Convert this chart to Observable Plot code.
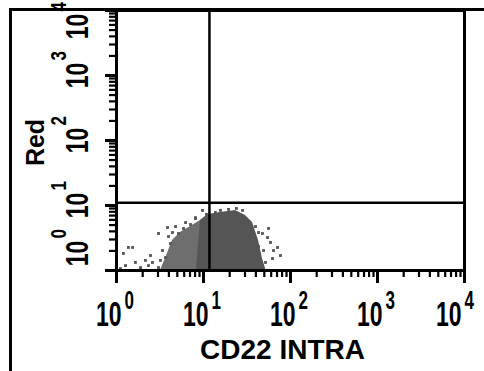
<!DOCTYPE html>
<html><head><meta charset="utf-8">
<script src="https://cdn.jsdelivr.net/npm/d3@7"></script>
<script src="https://cdn.jsdelivr.net/npm/@observablehq/plot@0.6"></script>
<style>
body{margin:0;background:#fff;}
#wrap{position:relative;width:484px;height:371px;overflow:hidden;font-family:"Liberation Sans",Arial,sans-serif;}
#wrap::before{content:"";position:absolute;left:9px;top:8px;right:0;bottom:0;border-left:3px solid #000;border-top:3px solid #000;}
#wrap svg{position:absolute;left:0;top:0;}
</style></head><body><div id="wrap"></div>
<script>
// Axis decades and exponent labels
const decades = [1, 10, 100, 1000, 10000];
const exponents = ["0", "1", "2", "3", "4"];
const minorTicks = [2,3,4,5,6,7,8,9,20,30,40,50,60,70,80,90,200,300,400,500,600,700,800,900,2000,3000,4000,5000,6000,7000,8000,9000];
// Quadrant gates
const gateCD22 = 11.7;
const gateRed = 11;
// Sparse left shoulder of the cloud: upper envelope (CD22, Red)
const shoulderCD22 = [3.2, 3.66, 4.40, 5.44, 7.09, 9.24, 11.4];
const shoulderRed  = [1.0, 1.53, 2.90, 3.84, 4.75, 5.88, 7.27];
// Dense core of the cloud: upper envelope (CD22, Red)
const coreCD22 = [8.3, 9.24, 11.4, 15.7, 23.3, 30.4, 36.6, 42.9, 47.6, 51.6, 52.8];
const coreRed  = [1.0, 5.88, 7.27, 7.80, 8.38, 7.02, 5.47, 2.90, 1.53, 1.07, 1.0];
// Scattered events
const dotCD22 = [9.75, 19.4, 23.9, 28.1, 47.6, 54.4, 70.9, 49, 32, 58.9, 3.04, 1.53, 1.37, 1.20, 1.27, 1.89, 2.33, 3.04, 3.86, 4.40, 5.16, 4.18, 3.66, 3.2, 5.89, 7.09, 2.59, 39.6, 42.9, 36.6, 62.1, 13.7, 15.7, 8.1, 10.8,
  3.38, 3.96, 4.77, 6.22, 8.09, 2.46, 2.15, 1.65, 1.11, 55.9, 63.8, 76.7, 51.6, 42.9];
const dotRed  = [8.4, 8.7, 9.0, 8.4, 3.71, 3.22, 2.26, 2.03, 1.43, 2.70, 3.71, 2.26, 2.26, 1.83, 1.19, 1.11, 1.19, 1.11, 4.59, 3.84, 3.71, 2.60, 1.58, 1.43, 4.43, 5.1, 1.33, 4.75, 2.34, 1.70, 1.53, 7.8, 8.4, 6.5, 7.3,
  2.03, 3.33, 4.75, 5.47, 6.31, 1.70, 1.43, 1.33, 1.07, 4.43, 2.03, 1.70, 1.33, 3.84];

const shoulder = shoulderCD22.map((x, i) => ({x, y: shoulderRed[i]}));
const core = coreCD22.map((x, i) => ({x, y: coreRed[i]}));
const dots = dotCD22.map((x, i) => ({x, y: dotRed[i]}));
const ink = "#555";
const LF = "Liberation Sans, Arial, sans-serif";

const inner = decades.slice(1, 4);
const big = 23, small = 17;
const lab = {frameAnchor: "left", rotate: -90, lineAnchor: "bottom", fontWeight: "bold"};
const chart = Plot.plot({
  width: 484, height: 371,
  marginLeft: 116, marginRight: 20, marginTop: 10, marginBottom: 101,
  style: {background: "transparent", fontFamily: LF, overflow: "visible"},
  x: {type: "log", domain: [1, 10000]},
  y: {type: "log", domain: [1, 10000]},
  marks: [
    Plot.areaY(shoulder, {x: "x", y1: 1, y2: "y", fill: ink, fillOpacity: 0.85}),
    Plot.areaY(core, {x: "x", y1: 1, y2: "y", fill: ink}),
    Plot.dot(dots, {x: "x", y: "y", symbol: "square", r: 1.6, fill: ink}),
    Plot.ruleX([gateCD22], {stroke: "#000", strokeWidth: 2.5}),
    Plot.ruleY([gateRed], {stroke: "#000", strokeWidth: 2.5}),
    Plot.frame({stroke: "#000", strokeWidth: 3}),
    Plot.axisX(decades, {anchor: "bottom", tickSize: 13, strokeWidth: 3, tickFormat: () => "", label: null}),
    Plot.axisX(minorTicks, {anchor: "bottom", tickSize: 7, strokeWidth: 2.2, tickFormat: () => "", label: null}),
    Plot.axisY(decades, {anchor: "left", tickSize: 11, strokeWidth: 3, tickFormat: () => "", label: null}),
    Plot.axisY(minorTicks, {anchor: "left", tickSize: 7, strokeWidth: 2.2, tickFormat: () => "", label: null}),
    // x tick labels
    Plot.text(decades.slice(0, 4), {x: d => d, frameAnchor: "bottom", text: () => "10", textAnchor: "end", lineAnchor: "bottom", dx: 5, dy: 55, fontSize: big, fontWeight: "bold"}),
    Plot.text(decades.slice(0, 4), {x: d => d, frameAnchor: "bottom", text: (d, i) => exponents[i], textAnchor: "start", lineAnchor: "bottom", dx: 8, dy: 38, fontSize: small, fontWeight: "bold"}),
    Plot.text(decades.slice(4), {x: d => d, frameAnchor: "bottom", text: () => "10", textAnchor: "end", lineAnchor: "bottom", dx: -3, dy: 55, fontSize: big, fontWeight: "bold"}),
    Plot.text(decades.slice(4), {x: d => d, frameAnchor: "bottom", text: () => exponents[4], textAnchor: "start", lineAnchor: "bottom", dx: 0, dy: 38, fontSize: small, fontWeight: "bold"}),
    // y tick labels
    Plot.text(inner, {...lab, y: d => d, text: () => "10", textAnchor: "middle", dx: -29, dy: 0, fontSize: big}),
    Plot.text(inner, {...lab, y: d => d, text: (d, i) => exponents[i + 1], textAnchor: "start", dx: -51, dy: -15, fontSize: small}),
    Plot.text(decades.slice(0, 1), {...lab, y: d => d, text: () => "10", textAnchor: "middle", dx: -29, dy: -17, fontSize: big}),
    Plot.text(decades.slice(0, 1), {...lab, y: d => d, text: () => exponents[0], textAnchor: "start", dx: -51, dy: -32, fontSize: small}),
    Plot.text(decades.slice(4), {...lab, y: d => d, text: () => "10", textAnchor: "middle", dx: -29, dy: 16, fontSize: big}),
    Plot.text(decades.slice(4), {...lab, y: d => d, text: () => exponents[4], textAnchor: "start", dx: -51, dy: 1, fontSize: small}),
    // axis titles
    Plot.text(["Red"], {frameAnchor: "left", text: d => d, rotate: -90, textAnchor: "middle", lineAnchor: "bottom", dx: -73, dy: 2, fontSize: 25, fontWeight: "bold"}),
    Plot.text(["CD22 INTRA"], {frameAnchor: "bottom", text: d => d, textAnchor: "middle", lineAnchor: "bottom", dx: -8, dy: 88, fontSize: 28, fontWeight: "bold"})
  ]
});
document.getElementById("wrap").appendChild(chart);
// Condensed look of the tick labels: stretch glyphs along their height
const tickTexts = new Set(["10", ...exponents]);
chart.querySelectorAll("text").forEach(t => {
  if (!tickTexts.has(t.textContent.trim())) return;
  const tr = t.getAttribute("transform") || "";
  const s = tr.includes("rotate") ? 1.35 : 1.5;
  t.setAttribute("transform", tr + ` scale(1,${s})`);
});
</script>
</body></html>
